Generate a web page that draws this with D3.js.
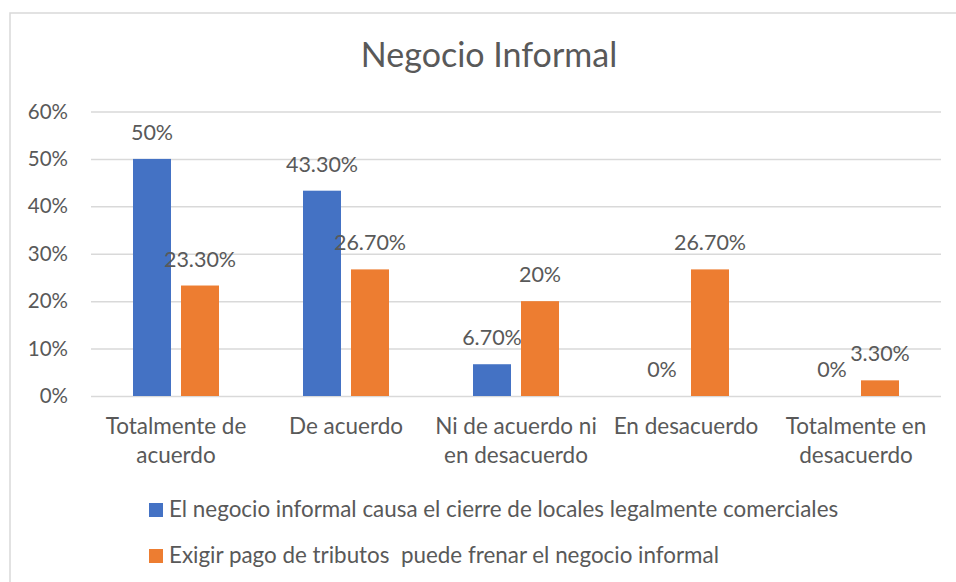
<!DOCTYPE html>
<html>
<head>
<meta charset="utf-8">
<script src="https://cdn.jsdelivr.net/npm/d3@7"></script>
<style>
  html, body { margin: 0; padding: 0; background: #ffffff; }
  svg { display: block; }
  text { font-family: Lato, "Open Sans", sans-serif; fill: #595959; }
</style>
</head>
<body>
<svg id="chart" width="956" height="582"></svg>
<script>
// ---- Data ----
const title = "Negocio Informal";
const categories = [
  ["Totalmente de", "acuerdo"],
  ["De acuerdo"],
  ["Ni de acuerdo ni", "en desacuerdo"],
  ["En desacuerdo"],
  ["Totalmente en", "desacuerdo"]
];
const seriesNames = [
  "El negocio informal causa el cierre de locales legalmente comerciales",
  "Exigir pago de tributos  puede frenar el negocio informal"
];
const seriesA = [0.50, 0.433, 0.067, 0, 0];
const seriesB = [0.233, 0.267, 0.20, 0.267, 0.033];
const labelsA = ["50%", "43.30%", "6.70%", "0%", "0%"];
const labelsB = ["23.30%", "26.70%", "20%", "26.70%", "3.30%"];
const yTicks = [0, 0.1, 0.2, 0.3, 0.4, 0.5, 0.6];
const yTickLabels = ["0%", "10%", "20%", "30%", "40%", "50%", "60%"];
const colors = ["#4472C4", "#ED7D31"];

// ---- Layout ----
const svg = d3.select("#chart");
const plot = { left: 91, right: 941, top: 111.5, bottom: 396 };

// chart frame
svg.append("rect")
  .attr("x", 10).attr("y", 13)
  .attr("width", 1000).attr("height", 700)
  .attr("fill", "none").attr("stroke", "#d9d9d9").attr("stroke-width", 1.5);

const catKeys = categories.map((c, i) => i);
const x0 = d3.scaleBand().domain(catKeys).range([plot.left, plot.right]).paddingInner(0).paddingOuter(0);
const x1 = d3.scaleBand().domain([0, 1]).range([0, x0.bandwidth()])
  .paddingInner(10 / 48).paddingOuter(0.875);
const y = d3.scaleLinear().domain([0, 0.6]).range([plot.bottom, plot.top]);

// title
svg.append("text")
  .attr("x", 489).attr("y", 67)
  .attr("text-anchor", "middle")
  .style("font-size", "34px")
  .text(title);

// gridlines
const yAxis = d3.axisLeft(y).tickValues(yTicks)
  .tickSize(-(plot.right - plot.left))
  .tickPadding(23)
  .tickFormat((d, i) => yTickLabels[i]);
const gy = svg.append("g").attr("transform", `translate(${plot.left},0)`).call(yAxis);
gy.select(".domain").remove();
gy.selectAll(".tick line").attr("stroke", "#d9d9d9").attr("stroke-width", 1.5);
gy.selectAll(".tick text")
  .attr("fill", "#595959")
  .style("font-family", "Lato, sans-serif")
  .style("font-size", "20.5px");

// bars
const series = [seriesA, seriesB];
const labels = [labelsA, labelsB];
series.forEach((vals, s) => {
  svg.append("g").selectAll("rect")
    .data(vals)
    .join("rect")
    .attr("x", (d, i) => x0(i) + x1(s))
    .attr("width", x1.bandwidth())
    .attr("y", d => y(d))
    .attr("height", d => y(0) - y(d))
    .attr("fill", colors[s]);
  svg.append("g").selectAll("text")
    .data(vals)
    .join("text")
    .attr("x", (d, i) => x0(i) + x1(s) + x1.bandwidth() / 2)
    .attr("y", d => y(d) - 19)
    .attr("text-anchor", "middle")
    .style("font-size", "21.5px")
    .text((d, i) => labels[s][i]);
});

// category labels
const gx = svg.append("g");
categories.forEach((lines, i) => {
  const t = gx.append("text")
    .attr("x", x0(i) + x0.bandwidth() / 2)
    .attr("y", 434)
    .attr("text-anchor", "middle")
    .style("font-size", "22.5px");
  lines.forEach((ln, j) => {
    t.append("tspan")
      .attr("x", x0(i) + x0.bandwidth() / 2)
      .attr("dy", j === 0 ? 0 : 29)
      .text(ln);
  });
});

// legend
const legend = svg.append("g");
seriesNames.forEach((name, s) => {
  const ly = 517 + s * 46;
  legend.append("rect")
    .attr("x", 149).attr("y", ly - 14)
    .attr("width", 14).attr("height", 14)
    .attr("fill", colors[s]);
  legend.append("text")
    .attr("x", 169).attr("y", ly)
    .style("font-size", "22.4px")
    .style("white-space", "pre")
    .attr("xml:space", "preserve")
    .text(name);
});
</script>
</body>
</html>
